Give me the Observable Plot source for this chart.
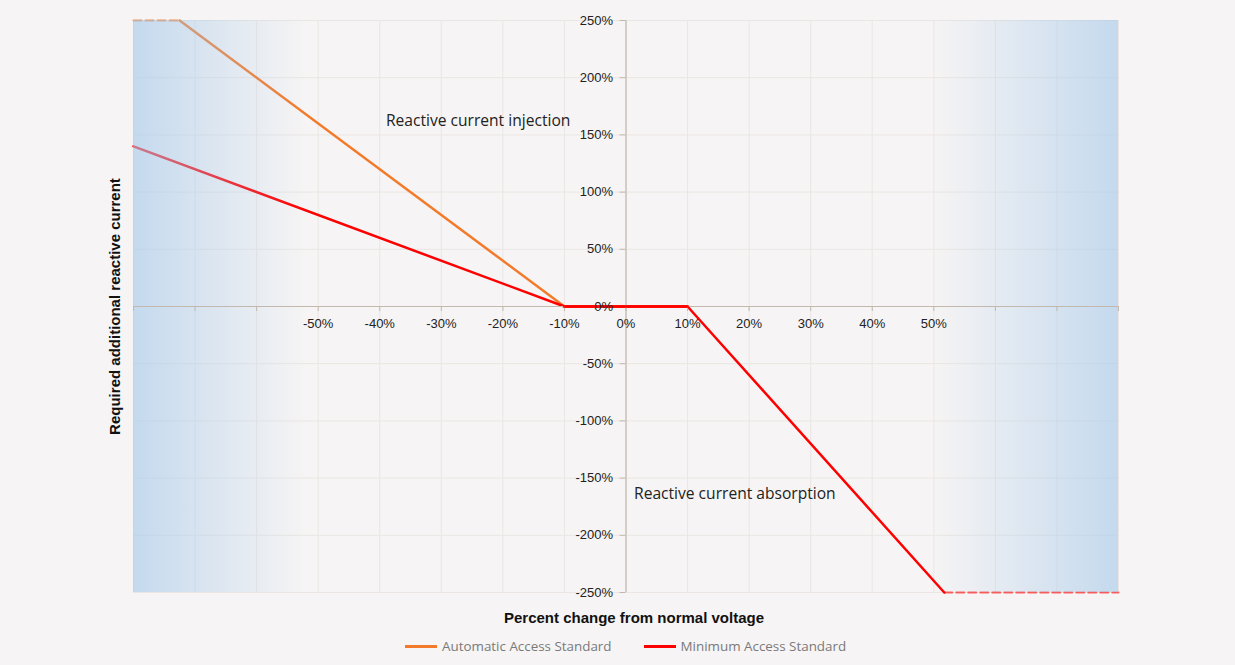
<!DOCTYPE html>
<html>
<head>
<meta charset="utf-8">
<script src="https://cdn.jsdelivr.net/npm/d3@7"></script>
<script src="https://cdn.jsdelivr.net/npm/@observablehq/plot@0.6"></script>
<style>
  html, body { margin: 0; padding: 0; background: #f6f4f4; }
  #wrap { position: relative; width: 1235px; height: 665px; overflow: hidden; background: #f6f4f4; }
  #chart { position: absolute; left: 0; top: 0; }
  #xtitle { position: absolute; top: 609px; left: 634px; transform: translateX(-50%); white-space: nowrap;
            font: bold 15px "Liberation Sans", Arial, sans-serif; color: #111; }
  #legend { position: absolute; top: 637px; left: 405px; display: flex; align-items: center; white-space: nowrap;
            font: 13.4px "Open Sans", sans-serif; color: #7a7a7a; }
  .item { display: flex; align-items: center; margin-right: 32px; }
  .sw { width: 32px; height: 3px; margin-right: 5px; }
</style>
</head>
<body>
<div id="wrap">
  <div id="chart"></div>
  <div id="xtitle"></div>
  <div id="legend"></div>
</div>
<script>
// ---- data ----
const seriesNames = ["Automatic Access Standard", "Minimum Access Standard"];
const seriesColors = ["#f37a2a", "#ff0000"];

const autoX = [-72.5, -10, 10];
const autoY = [250, 0, 0];
const autoCapX = [-80, -72.5];
const autoCapY = [250, 250];

const minX = [-80, -10, 10, 51.7];
const minY = [140, 0, 0, -250];
const minCapX = [51.7, 80];
const minCapY = [-250, -250];

const xGridTicks = [-80, -70, -60, -50, -40, -30, -20, -10, 0, 10, 20, 30, 40, 50, 60, 70, 80];
const xTickLabels = [-50, -40, -30, -20, -10, 0, 10, 20, 30, 40, 50];
const yTicks = [-250, -200, -150, -100, -50, 0, 50, 100, 150, 200, 250];

const shadeLeft = [{x1: -80, x2: -52}];
const shadeRight = [{x1: 50, x2: 80}];

const annoText = ["Reactive current injection", "Reactive current absorption"];
const annoX = [-39, 1.3];
const annoY = [162, -163.5];

const xTitle = "Percent change from normal voltage";
const yTitle = "Required additional reactive current";

// ---- build tables ----
const toPts = (xs, ys) => xs.map((x, i) => ({x, y: ys[i]}));
const autoPts = toPts(autoX, autoY);
const autoCap = toPts(autoCapX, autoCapY);
const minPts = toPts(minX, minY);
const minCap = toPts(minCapX, minCapY);
const minFlat = minPts.filter(d => d.y === 0);
const annos = annoText.map((t, i) => ({t, x: annoX[i], y: annoY[i]}));

const tickFont = "'Liberation Sans', Arial, sans-serif";
const axisColor = "#c2b8ad";
const gridColor = "#ebe6e3";

const svg = Plot.plot({
  width: 1235,
  height: 600,
  marginTop: 20,
  marginLeft: 133,
  marginRight: 117,
  marginBottom: 8,
  style: {background: "transparent", overflow: "visible"},
  x: {domain: [-80, 80], axis: null},
  y: {domain: [-250, 250], axis: null},
  marks: [
    Plot.ruleX(xGridTicks, {stroke: gridColor, strokeWidth: 1}),
    Plot.ruleY(yTicks, {stroke: gridColor, strokeWidth: 1}),
    Plot.line(autoCap, {x: "x", y: "y", stroke: seriesColors[0], strokeWidth: 2, strokeDasharray: "8,4", strokeOpacity: 0.8}),
    Plot.line(minCap, {x: "x", y: "y", stroke: seriesColors[1], strokeWidth: 2, strokeDasharray: "8,4", strokeOpacity: 0.6}),
    Plot.line(autoPts, {x: "x", y: "y", stroke: seriesColors[0], strokeWidth: 2.5}),
    Plot.line(minPts, {x: "x", y: "y", stroke: seriesColors[1], strokeWidth: 2.5, strokeLinejoin: "miter"}),
    Plot.rect(shadeLeft, {x1: "x1", x2: "x2", fill: "url(#shadeL)"}),
    Plot.rect(shadeRight, {x1: "x1", x2: "x2", fill: "url(#shadeR)"}),
    Plot.ruleY([0], {stroke: axisColor, strokeWidth: 1.2}),
    Plot.ruleX([0], {stroke: axisColor, strokeWidth: 1.2}),
    Plot.ruleX(xGridTicks, {y1: 0, y2: 0, insetBottom: -5, stroke: axisColor}),
    Plot.ruleY(yTicks, {x1: 0, x2: 0, insetLeft: -6, stroke: axisColor}),
    Plot.line(minFlat, {x: "x", y: "y", stroke: seriesColors[1], strokeWidth: 2.5}),
    Plot.text(xTickLabels, {x: d => d, y: 0, dy: 17, text: d => d + "%", fontSize: 13, fontFamily: tickFont, fill: "#222"}),
    Plot.text(yTicks, {x: 0, y: d => d, dx: -13, textAnchor: "end", text: d => d + "%", fontSize: 13, fontFamily: tickFont, fill: "#222"}),
    Plot.text(annos, {x: "x", y: "y", text: "t", textAnchor: "start", fontSize: 15.6, fontFamily: "'Open Sans', sans-serif", fill: "#222"}),
    Plot.text([yTitle], {frameAnchor: "left", textAnchor: "middle", rotate: -90, dx: -18, fontSize: 15, fontWeight: "bold", fontFamily: tickFont, fill: "#111"})
  ]
});

// gradient definitions
const defs = d3.select(svg).insert("defs", ":first-child");
function grad(id, leftOpacity, rightOpacity) {
  const g = defs.append("linearGradient").attr("id", id).attr("x1", "0").attr("x2", "1").attr("y1", "0").attr("y2", "0");
  g.append("stop").attr("offset", "0").attr("stop-color", "#a6c9ea").attr("stop-opacity", leftOpacity);
  g.append("stop").attr("offset", "1").attr("stop-color", "#a6c9ea").attr("stop-opacity", rightOpacity);
}
grad("shadeL", 0.62, 0);
grad("shadeR", 0, 0.62);

document.getElementById("chart").appendChild(svg);
document.getElementById("xtitle").textContent = xTitle;

const legend = document.getElementById("legend");
seriesNames.forEach((name, i) => {
  const item = document.createElement("div");
  item.className = "item";
  const sw = document.createElement("div");
  sw.className = "sw";
  sw.style.background = seriesColors[i];
  const label = document.createElement("span");
  label.textContent = name;
  item.appendChild(sw);
  item.appendChild(label);
  legend.appendChild(item);
});
</script>
</body>
</html>
